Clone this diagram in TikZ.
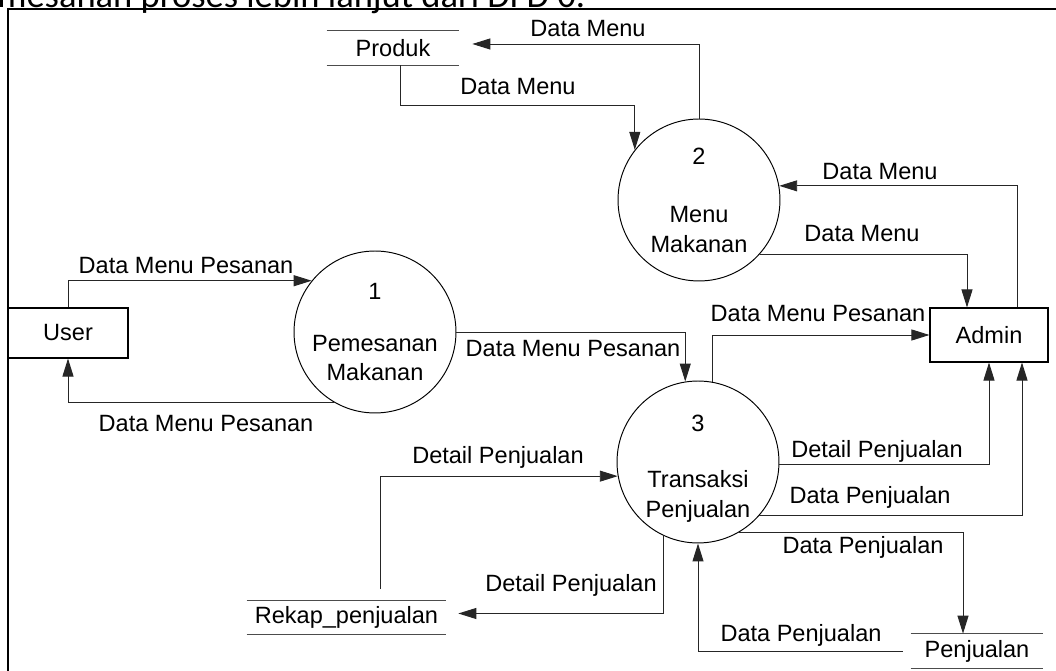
\documentclass[tikz,border=0pt]{standalone}
\usepackage{fontspec}
\setmainfont{Liberation Sans}
\newfontfamily\capfont{Carlito}
\usetikzlibrary{arrows.meta}

\begin{document}
\begin{tikzpicture}[
        x=0.02cm, y=-0.02cm,
        every node/.style={font=\fontsize{13.4}{17}\selectfont},
        proc/.style={circle, draw, line width=0.55pt, minimum size=3.24cm, inner sep=0pt, align=center, text depth=0pt},
        ent/.style={draw, line width=0.6pt, inner sep=0pt},
        store/.style={minimum width=2.64cm, minimum height=0.68cm, inner sep=0pt,
            append after command={(\tikzlastnode.north west) edge[black!70, line width=0.6pt] (\tikzlastnode.north east)
                (\tikzlastnode.south west) edge[black!70, line width=0.6pt] (\tikzlastnode.south east)}},
        lbl/.style={inner sep=0pt, text height=0.716em, text depth=0pt},
        flow/.style={draw=black!85, line width=0.55pt, -{Triangle[length=0.36cm, width=0.22cm]}}
    ]
        \useasboundingbox (0,0) rectangle (1056,671);
        \clip (0,0) rectangle (1056,671);

        % Judul yang terpotong dan bingkai
        \node[anchor=base west, inner sep=0pt, font=\capfont\fontsize{20.8}{22}\selectfont] (judul) at (-3,8) {mesanan proses lebih lanjut dari DFD 0.};
        \draw[line width=0.8pt] (8,700) -- (8,9) -- (1100,9);

        % Entitas, proses dan data store
        \node[ent, minimum width=2.4cm, minimum height=1cm] (user) at (68,333) {User};
        \node[ent, minimum width=2.36cm, minimum height=1.08cm] (admin) at (989,335) {Admin};
        \node[proc] (p1) at (375,332) {1\\[0.44cm]Pemesanan\\Makanan};
        \node[proc] (p2) at (699,200) {2\\[0.56cm]Menu\\Makanan};
        \node[proc] (p3) at (698,462) {\\[-0.1cm]3\\[0.54cm]Transaksi\\Penjualan};
        \node[store] (produk) at (393,48) {Produk};
        \node[store, minimum width=3.98cm] (rekap) at (346.5,617.5) {Rekap\_penjualan};
        \node[store] (penj) at (977,651) {Penjualan};

        % Aliran data
        \draw[flow] (user.north) |- (p1.141);
        \draw[flow] (p1.240) -| (user.south);
        \draw[flow] (p1.east) -| (p3.99);
        \draw[flow] ([xshift=0.14cm]produk.south) -- ++(0,40) -| (p2.142);
        \draw[flow] (p2.north) |- ([shift={(13,-4)}]produk.east);
        \draw[flow] ([xshift=0.56cm]admin.north) |- (p2.10);
        \draw[flow] (p2.-42) -| ([xshift=-0.44cm]admin.north);
        \draw[flow] (p3.80) |- (admin.west);
        \draw[flow] (p3.-2) -| (admin.south);
        \draw[flow] (p3.-41) -| ([xshift=0.66cm]admin.south);
        \draw[flow] (p3.-60) -| ([xshift=-0.28cm]penj.north);
        \draw[flow] ([xshift=-0.16cm]penj.west) -| (p3.south);
        \draw[flow] (p3.245) |- ([shift={(12,-4)}]rekap.east);
        \draw[flow] ([shift={(34,-11)}]rekap.north) |- (p3.190);

        % Label aliran
        \node[lbl] (l1) at (186,267) {Data Menu Pesanan};
        \node[lbl] (l2) at (206,425) {Data Menu Pesanan};
        \node[lbl] (l3) at (573,350) {Data Menu Pesanan};
        \node[lbl] (l4) at (518,88) {Data Menu};
        \node[lbl] (l5) at (588,30) {Data Menu};
        \node[lbl] (l6) at (880,173) {Data Menu};
        \node[lbl] (l7) at (862,235) {Data Menu};
        \node[lbl] (l8) at (818,315) {Data Menu Pesanan};
        \node[lbl] (l9) at (877,451) {Detail Penjualan};
        \node[lbl] (l10) at (870,497) {Data Penjualan};
        \node[lbl] (l11) at (863,547) {Data Penjualan};
        \node[lbl] (l12) at (801,635) {Data Penjualan};
        \node[lbl] (l13) at (571,585) {Detail Penjualan};
        \node[lbl] (l14) at (498,457) {Detail Penjualan};
    \end{tikzpicture}
\end{document}
